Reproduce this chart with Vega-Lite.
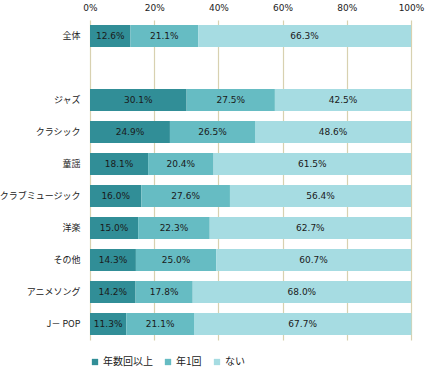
{
  "$schema": "https://vega.github.io/schema/vega-lite/v6.json",
  "width": 321,
  "height": 320,
  "autosize": "none",
  "padding": {"left": 90, "top": 20, "right": 15, "bottom": 30},
  "background": "white",
  "config": {"view": {"stroke": null}, "font": "DejaVu Sans"},
  "data": {
    "values": [
      {"cat": "全体", "type": "年数回以上", "o": 1, "v": 12.6},
      {"cat": "全体", "type": "年1回", "o": 2, "v": 21.1},
      {"cat": "全体", "type": "ない", "o": 3, "v": 66.3},
      {"cat": "ジャズ", "type": "年数回以上", "o": 1, "v": 30.1},
      {"cat": "ジャズ", "type": "年1回", "o": 2, "v": 27.5},
      {"cat": "ジャズ", "type": "ない", "o": 3, "v": 42.5},
      {"cat": "クラシック", "type": "年数回以上", "o": 1, "v": 24.9},
      {"cat": "クラシック", "type": "年1回", "o": 2, "v": 26.5},
      {"cat": "クラシック", "type": "ない", "o": 3, "v": 48.6},
      {"cat": "童謡", "type": "年数回以上", "o": 1, "v": 18.1},
      {"cat": "童謡", "type": "年1回", "o": 2, "v": 20.4},
      {"cat": "童謡", "type": "ない", "o": 3, "v": 61.5},
      {"cat": "クラブミュージック", "type": "年数回以上", "o": 1, "v": 16.0},
      {"cat": "クラブミュージック", "type": "年1回", "o": 2, "v": 27.6},
      {"cat": "クラブミュージック", "type": "ない", "o": 3, "v": 56.4},
      {"cat": "洋楽", "type": "年数回以上", "o": 1, "v": 15.0},
      {"cat": "洋楽", "type": "年1回", "o": 2, "v": 22.3},
      {"cat": "洋楽", "type": "ない", "o": 3, "v": 62.7},
      {"cat": "その他", "type": "年数回以上", "o": 1, "v": 14.3},
      {"cat": "その他", "type": "年1回", "o": 2, "v": 25.0},
      {"cat": "その他", "type": "ない", "o": 3, "v": 60.7},
      {"cat": "アニメソング", "type": "年数回以上", "o": 1, "v": 14.2},
      {"cat": "アニメソング", "type": "年1回", "o": 2, "v": 17.8},
      {"cat": "アニメソング", "type": "ない", "o": 3, "v": 68.0},
      {"cat": "J－ POP", "type": "年数回以上", "o": 1, "v": 11.3},
      {"cat": "J－ POP", "type": "年1回", "o": 2, "v": 21.1},
      {"cat": "J－ POP", "type": "ない", "o": 3, "v": 67.7}
    ]
  },
  "transform": [
    {"stack": "v", "groupby": ["cat"], "sort": [{"field": "o", "order": "ascending"}], "as": ["v0", "v1"]},
    {"calculate": "(datum.v0 + datum.v1) / 2", "as": "mid"},
    {"calculate": "format(datum.v, '.1f') + '%'", "as": "label"}
  ],
  "encoding": {
    "y": {
      "field": "cat",
      "type": "nominal",
      "scale": {
        "domain": ["全体", " ", "ジャズ", "クラシック", "童謡", "クラブミュージック", "洋楽", "その他", "アニメソング", "J－ POP"],
        "paddingInner": 0.32,
        "paddingOuter": 0.16
      },
      "axis": {
        "title": null,
        "domain": false,
        "ticks": false,
        "labelPadding": 10,
        "labelFont": "Noto Sans CJK JP",
        "labelFontSize": 9,
        "labelColor": "#222222",
        "grid": false
      }
    }
  },
  "layer": [
    {
      "mark": {"type": "bar"},
      "encoding": {
        "x": {
          "field": "v0",
          "type": "quantitative",
          "scale": {"domain": [0, 100]},
          "axis": {
            "orient": "top",
            "title": null,
            "values": [0, 20, 40, 60, 80, 100],
            "labelExpr": "datum.value + '%'",
            "domain": false,
            "ticks": false,
            "labelPadding": 8,
            "labelFontSize": 9,
            "labelColor": "#222222",
            "grid": true,
            "gridColor": "#d8d1b0",
            "gridWidth": 1.2,
            "gridOpacity": 1,
            "labelFlush": false
          }
        },
        "x2": {"field": "v1"},
        "color": {
          "field": "type",
          "type": "nominal",
          "scale": {
            "domain": ["年数回以上", "年1回", "ない"],
            "range": ["#318e97", "#66bcc3", "#a6dce2"]
          },
          "legend": {
            "title": null,
            "orient": "bottom",
            "direction": "horizontal",
            "symbolType": "square",
            "symbolSize": 40,
            "symbolStrokeWidth": 0,
            "labelFont": "Noto Sans CJK JP",
            "labelFontSize": 10,
            "labelColor": "#222222",
            "columnPadding": 10,
            "labelOffset": 3,
            "offset": 17,
            "padding": 0
          }
        }
      }
    },
    {
      "mark": {"type": "text", "fontSize": 9, "color": "#1a1a1a"},
      "encoding": {
        "x": {"field": "mid", "type": "quantitative"},
        "text": {"field": "label", "type": "nominal"}
      }
    }
  ]
}
